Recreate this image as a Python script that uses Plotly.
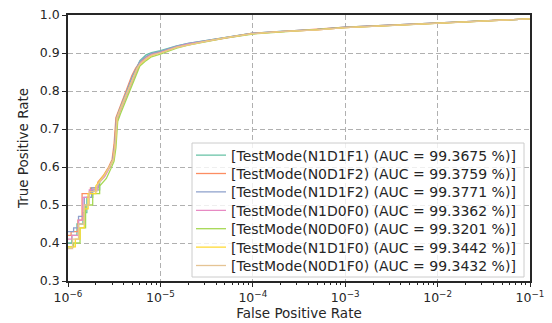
import plotly.graph_objects as go

series_names = [
    "[TestMode(N1D1F1) (AUC = 99.3675 %)]",
    "[TestMode(N0D1F2) (AUC = 99.3759 %)]",
    "[TestMode(N1D1F2) (AUC = 99.3771 %)]",
    "[TestMode(N1D0F0) (AUC = 99.3362 %)]",
    "[TestMode(N0D0F0) (AUC = 99.3201 %)]",
    "[TestMode(N1D1F0) (AUC = 99.3442 %)]",
    "[TestMode(N0D1F0) (AUC = 99.3432 %)]",
]
colors = ["#66c2a5", "#fc8d62", "#8da0cb", "#e78ac3", "#a6d854", "#ffd92f", "#e5c494"]

# lower (stepped) region of each ROC curve
fpr_low_n1d1f1 = [1.0e-6, 1.1e-6, 1.1e-6, 1.25e-6, 1.25e-6, 1.45e-6, 1.45e-6, 1.6e-6, 1.6e-6, 1.85e-6, 1.85e-6, 2.2e-6, 2.2e-6, 2.5e-6, 2.8e-6, 3.05e-6, 3.2e-6, 3.35e-6, 3.6e-6, 4.0e-6, 4.5e-6, 5.0e-6, 5.5e-6]
tpr_low_n1d1f1 = [0.40, 0.40, 0.42, 0.42, 0.45, 0.45, 0.48, 0.48, 0.52, 0.52, 0.54, 0.54, 0.56, 0.58, 0.60, 0.62, 0.66, 0.73, 0.75, 0.78, 0.81, 0.84, 0.86]
fpr_low_n0d1f2 = [1.0e-6, 1.08e-6, 1.08e-6, 1.28e-6, 1.28e-6, 1.42e-6, 1.42e-6, 1.75e-6, 1.75e-6, 2.1e-6, 2.1e-6, 2.45e-6, 2.75e-6, 3.0e-6, 3.15e-6, 3.3e-6, 3.55e-6, 3.95e-6, 4.4e-6, 4.9e-6, 5.4e-6]
tpr_low_n0d1f2 = [0.42, 0.42, 0.43, 0.43, 0.46, 0.46, 0.53, 0.53, 0.545, 0.545, 0.56, 0.58, 0.60, 0.62, 0.66, 0.73, 0.75, 0.78, 0.81, 0.84, 0.86]
fpr_low_n1d1f2 = [1.0e-6, 1.15e-6, 1.15e-6, 1.3e-6, 1.3e-6, 1.5e-6, 1.5e-6, 1.8e-6, 1.8e-6, 2.15e-6, 2.15e-6, 2.5e-6, 2.8e-6, 3.05e-6, 3.2e-6, 3.35e-6, 3.6e-6, 4.0e-6, 4.5e-6, 5.0e-6, 5.5e-6]
tpr_low_n1d1f2 = [0.43, 0.43, 0.44, 0.44, 0.47, 0.47, 0.52, 0.52, 0.545, 0.545, 0.56, 0.58, 0.60, 0.62, 0.66, 0.73, 0.75, 0.78, 0.81, 0.84, 0.86]
fpr_low_n1d0f0 = [1.0e-6, 1.1e-6, 1.1e-6, 1.3e-6, 1.3e-6, 1.45e-6, 1.45e-6, 1.7e-6, 1.7e-6, 2.1e-6, 2.1e-6, 2.5e-6, 2.85e-6, 3.1e-6, 3.25e-6, 3.4e-6, 3.65e-6, 4.1e-6, 4.6e-6, 5.1e-6, 5.6e-6]
tpr_low_n1d0f0 = [0.41, 0.41, 0.42, 0.42, 0.46, 0.46, 0.52, 0.52, 0.54, 0.54, 0.555, 0.575, 0.60, 0.62, 0.66, 0.72, 0.745, 0.775, 0.805, 0.835, 0.855]
fpr_low_n0d0f0 = [1.0e-6, 1.15e-6, 1.15e-6, 1.35e-6, 1.35e-6, 1.55e-6, 1.55e-6, 1.85e-6, 1.85e-6, 2.2e-6, 2.2e-6, 2.6e-6, 2.9e-6, 3.15e-6, 3.3e-6, 3.45e-6, 3.7e-6, 4.15e-6, 4.7e-6, 5.2e-6, 5.7e-6]
tpr_low_n0d0f0 = [0.39, 0.39, 0.40, 0.40, 0.44, 0.44, 0.50, 0.50, 0.53, 0.53, 0.55, 0.57, 0.595, 0.615, 0.65, 0.72, 0.74, 0.77, 0.80, 0.83, 0.85]
fpr_low_n1d1f0 = [1.0e-6, 1.2e-6, 1.2e-6, 1.35e-6, 1.35e-6, 1.5e-6, 1.5e-6, 1.65e-6, 1.65e-6, 2.0e-6, 2.0e-6, 2.4e-6, 2.8e-6, 3.1e-6, 3.25e-6, 3.4e-6, 3.65e-6, 4.1e-6, 4.6e-6, 5.1e-6, 5.6e-6]
tpr_low_n1d1f0 = [0.39, 0.39, 0.41, 0.41, 0.44, 0.44, 0.49, 0.49, 0.53, 0.53, 0.55, 0.575, 0.60, 0.62, 0.66, 0.73, 0.75, 0.78, 0.81, 0.84, 0.86]
fpr_low_n0d1f0 = [1.0e-6, 1.12e-6, 1.12e-6, 1.3e-6, 1.3e-6, 1.5e-6, 1.5e-6, 1.7e-6, 1.7e-6, 2.05e-6, 2.05e-6, 2.45e-6, 2.8e-6, 3.1e-6, 3.25e-6, 3.4e-6, 3.65e-6, 4.1e-6, 4.6e-6, 5.1e-6, 5.6e-6]
tpr_low_n0d1f0 = [0.385, 0.385, 0.41, 0.41, 0.45, 0.45, 0.50, 0.50, 0.535, 0.535, 0.55, 0.575, 0.60, 0.62, 0.66, 0.73, 0.75, 0.78, 0.81, 0.84, 0.86]

# upper (smooth) region, shared FPR grid
fpr_high = [6.0e-6, 7.0e-6, 8.0e-6, 1.0e-5, 1.5e-5, 2.0e-5, 3.0e-5, 5.0e-5, 1.0e-4, 2.0e-4, 5.0e-4, 1.0e-3, 3.0e-3, 1.0e-2, 3.0e-2, 1.0e-1]
tpr_high_n1d1f1 = [0.880, 0.895, 0.901, 0.906, 0.919, 0.925, 0.932, 0.941, 0.952, 0.957, 0.962, 0.968, 0.973, 0.979, 0.985, 0.990]
tpr_high_n0d1f2 = [0.875, 0.889, 0.897, 0.903, 0.917, 0.924, 0.931, 0.940, 0.952, 0.956, 0.962, 0.968, 0.973, 0.979, 0.985, 0.990]
tpr_high_n1d1f2 = [0.878, 0.891, 0.899, 0.904, 0.918, 0.925, 0.932, 0.941, 0.952, 0.957, 0.962, 0.968, 0.973, 0.979, 0.985, 0.990]
tpr_high_n1d0f0 = [0.872, 0.886, 0.895, 0.901, 0.916, 0.923, 0.930, 0.940, 0.951, 0.956, 0.961, 0.967, 0.972, 0.978, 0.984, 0.990]
tpr_high_n0d0f0 = [0.866, 0.880, 0.890, 0.897, 0.913, 0.921, 0.929, 0.939, 0.950, 0.955, 0.961, 0.967, 0.972, 0.978, 0.984, 0.990]
tpr_high_n1d1f0 = [0.870, 0.884, 0.893, 0.900, 0.915, 0.922, 0.930, 0.940, 0.951, 0.956, 0.961, 0.967, 0.972, 0.978, 0.984, 0.990]
tpr_high_n0d1f0 = [0.871, 0.885, 0.894, 0.900, 0.915, 0.922, 0.930, 0.940, 0.951, 0.956, 0.961, 0.967, 0.972, 0.978, 0.984, 0.990]

low_fpr = [fpr_low_n1d1f1, fpr_low_n0d1f2, fpr_low_n1d1f2, fpr_low_n1d0f0, fpr_low_n0d0f0, fpr_low_n1d1f0, fpr_low_n0d1f0]
low_tpr = [tpr_low_n1d1f1, tpr_low_n0d1f2, tpr_low_n1d1f2, tpr_low_n1d0f0, tpr_low_n0d0f0, tpr_low_n1d1f0, tpr_low_n0d1f0]
high_tpr = [tpr_high_n1d1f1, tpr_high_n0d1f2, tpr_high_n1d1f2, tpr_high_n1d0f0, tpr_high_n0d0f0, tpr_high_n1d1f0, tpr_high_n0d1f0]

x_tickvals = [1e-6, 1e-5, 1e-4, 1e-3, 1e-2, 1e-1]
x_ticktext = ["10<sup>−6</sup>", "10<sup>−5</sup>", "10<sup>−4</sup>", "10<sup>−3</sup>", "10<sup>−2</sup>", "10<sup>−1</sup>"]
y_tickvals = [0.3, 0.4, 0.5, 0.6, 0.7, 0.8, 0.9, 1.0]

minor_vals = [m * 10 ** e for e in range(-6, -1) for m in range(2, 10)]

# figure geometry (pixels)
W, H = 552, 323
L, R, T, B = 68, 22, 15, 42
PW, PH = W - L - R, H - T - B


def px_x(p):
    return (p - L) / PW


def px_y(p):
    return (H - B - p) / PH


font_family = "DejaVu Sans"
text_col = "#262626"

fig = go.Figure()
layout_legends = {}
row0, row_step = 155.5, 18.4
for i, (name, col, fl, tl, th) in enumerate(zip(series_names, colors, low_fpr, low_tpr, high_tpr)):
    lg = "legend" if i == 0 else f"legend{i + 1}"
    fig.add_trace(go.Scatter(
        x=fl + fpr_high, y=tl + th, mode="lines", name=name,
        line=dict(color=col, width=1.3), legend=lg,
    ))
    layout_legends[lg] = dict(
        x=px_x(191), y=px_y(row0 + i * row_step), xanchor="left", yanchor="middle",
        bgcolor="rgba(0,0,0,0)", borderwidth=0,
        font=dict(family=font_family, size=14, color=text_col),
    )

fig.update_layout(
    width=W, height=H,
    margin=dict(l=L, r=R, t=T, b=B),
    paper_bgcolor="white", plot_bgcolor="white",
    font=dict(family=font_family, size=12, color=text_col),
    showlegend=True,
    **layout_legends,
    shapes=[dict(
        type="rect", xref="paper", yref="paper",
        x0=px_x(192), x1=px_x(524), y0=px_y(277), y1=px_y(143),
        fillcolor="rgba(255,255,255,0.8)", line=dict(color="#cccccc", width=1),
        layer="above",
    )],
    xaxis=dict(
        type="log", range=[-6, -1], automargin=False,
        tickvals=x_tickvals, ticktext=x_ticktext,
        ticks="outside", ticklen=4, tickwidth=1, tickcolor=text_col,
        showline=True, linecolor=text_col, linewidth=1.5, mirror=True,
        showgrid=True, gridcolor="#b0b0b0", griddash="5px,3px", gridwidth=1,
        zeroline=False,
        minor=dict(tickvals=minor_vals, ticks="outside", ticklen=2, tickcolor=text_col, showgrid=False),
        title=dict(text="False Positive Rate", font=dict(size=13.5), standoff=4),
        tickfont=dict(size=12.5),
    ),
    yaxis=dict(
        range=[0.3, 1.0], tickvals=y_tickvals, tickformat=".1f", automargin=False,
        ticks="outside", ticklen=4, tickwidth=1, tickcolor=text_col,
        showline=True, linecolor=text_col, linewidth=1.5, mirror=True,
        showgrid=True, gridcolor="#b0b0b0", griddash="5px,3px", gridwidth=1,
        zeroline=False,
        title=dict(text="True Positive Rate", font=dict(size=13.5), standoff=8),
        tickfont=dict(size=12.5),
    ),
)

fig.write_html("out.html", config={"displayModeBar": False},
               post_script="document.body.style.margin='0';")
